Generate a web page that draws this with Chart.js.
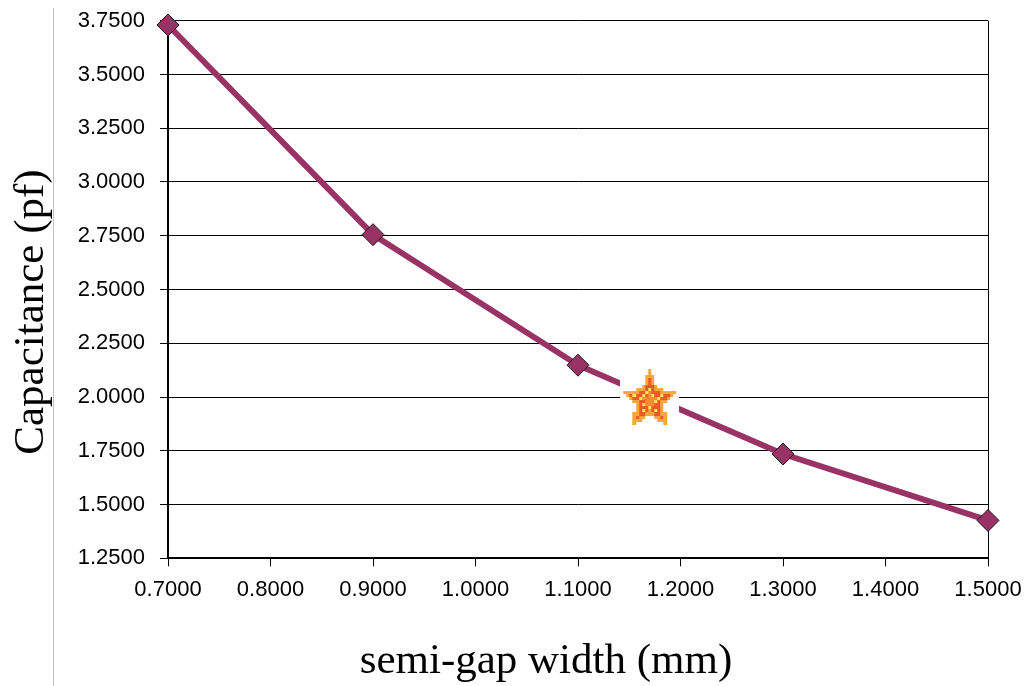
<!DOCTYPE html>
<html>
<head>
<meta charset="utf-8">
<script src="https://cdn.jsdelivr.net/npm/chart.js@4/dist/chart.umd.min.js"></script>
<style>
  html, body { margin: 0; padding: 0; background: #ffffff; }
  #wrap { width: 1025px; height: 686px; position: relative; }
</style>
</head>
<body>
<div id="wrap"><canvas id="chart" width="1025" height="686"></canvas></div>
<script>
// Semi-gap width (mm) and measured capacitance (pF)
const gapWidths = [0.7, 0.9, 1.1, 1.3, 1.5];
const capacitance = [3.73, 2.755, 2.148, 1.735, 1.426];

// Highlighted operating point
const markedGap = [1.17];
const markedCap = [2.0];

// Axis ranges and tick steps
const xRange = [0.7, 1.5];
const yRange = [1.25, 3.75];
const xStep = 0.1;
const yStep = 0.25;

const xTitle = 'semi-gap width (mm)';
const yTitle = 'Capacitance (pf)';

// Pixelated orange star: each pixel of a small grid is tested against
// the star outline, then the grid is scaled up as solid blocks.
function makeStar() {
  const gw = 19, gh = 18, cell = 3.1;
  const cx = 9.5, cy = 10.1, R = 10, r = 4.7;
  const pts = [];
  for (let i = 0; i < 10; i++) {
    const a = -Math.PI / 2 + i * Math.PI / 5;
    const rad = i % 2 === 0 ? R : r;
    pts.push([cx + Math.cos(a) * rad, cy + Math.sin(a) * rad]);
  }
  function inside(x, y, shrink) {
    let c = false;
    for (let i = 0, j = pts.length - 1; i < pts.length; j = i++) {
      const xi = cx + (pts[i][0] - cx) * shrink, yi = cy + (pts[i][1] - cy) * shrink;
      const xj = cx + (pts[j][0] - cx) * shrink, yj = cy + (pts[j][1] - cy) * shrink;
      if (((yi > y) !== (yj > y)) && (x < (xj - xi) * (y - yi) / (yj - yi) + xi)) c = !c;
    }
    return c;
  }
  const big = document.createElement('canvas');
  big.width = Math.round(gw * cell); big.height = Math.round(gh * cell);
  const b = big.getContext('2d');
  b.fillStyle = '#ffffff';
  b.fillRect(0, 0, big.width, big.height);
  for (let gy = 0; gy < gh; gy++) {
    for (let gx = 0; gx < gw; gx++) {
      const px = gx + 0.5, py = gy + 0.5;
      if (!inside(px, py, 1)) continue;
      let col = '#f9a63e';
      if (inside(px, py, 0.72)) {
        col = '#e65c26';
        if (inside(px, py, 0.52) && !inside(px + 0.9, py + 0.9, 0.72)) col = '#fde45c';
        if (inside(px, py, 0.3)) col = '#f28c32';
        if ((gx + gy) % 3 === 0 && inside(px, py, 0.58) && !inside(px, py, 0.3)) col = '#fde45c';
      }
      b.fillStyle = col;
      b.fillRect(Math.round(gx * cell), Math.round(gy * cell),
                 Math.round((gx + 1) * cell) - Math.round(gx * cell),
                 Math.round((gy + 1) * cell) - Math.round(gy * cell));
    }
  }
  return big;
}

// Background, left separator, right frame edge and axis titles
const framePlugin = {
  id: 'frame',
  beforeDraw(chart) {
    const ctx = chart.ctx;
    ctx.save();
    ctx.fillStyle = '#ffffff';
    ctx.fillRect(0, 0, chart.width, chart.height);
    ctx.strokeStyle = '#c4c4c4';
    ctx.lineWidth = 1;
    ctx.beginPath();
    ctx.moveTo(53.5, 8);
    ctx.lineTo(53.5, chart.height);
    ctx.stroke();
    ctx.restore();
  },
  beforeDatasetsDraw(chart) {
    const { ctx, chartArea: a } = chart;
    ctx.save();
    ctx.strokeStyle = '#000000';
    ctx.lineWidth = 1;
    ctx.beginPath();
    ctx.moveTo(Math.round(a.right) + 0.5, a.top);
    ctx.lineTo(Math.round(a.right) + 0.5, a.bottom);
    ctx.stroke();
    ctx.restore();
  },
  afterDraw(chart) {
    const ctx = chart.ctx;
    ctx.save();
    ctx.fillStyle = '#000000';
    ctx.font = '43px "Liberation Serif", "Times New Roman", serif';
    ctx.textAlign = 'center';
    ctx.textBaseline = 'alphabetic';
    ctx.fillText(xTitle, 546, 673);
    ctx.translate(43, 312);
    ctx.rotate(-Math.PI / 2);
    ctx.fillText(yTitle, 0, 0);
    ctx.restore();
  }
};

const fmt4 = v => Number(v).toFixed(4);

function stepTicks(range, step) {
  const t = [];
  const n = Math.round((range[1] - range[0]) / step);
  for (let i = 0; i <= n; i++) t.push({ value: +(range[0] + i * step).toFixed(4) });
  return t;
}

// Fixed scale box sizes; label overhang is not reserved so the plot area
// is governed by the layout padding alone.
function fixBox(scale, prop, size) {
  scale[prop] = size;
  scale.paddingTop = scale.paddingBottom = scale.paddingLeft = scale.paddingRight = 0;
}

new Chart(document.getElementById('chart'), {
  type: 'line',
  data: {
    datasets: [
      {
        label: 'star',
        data: markedGap.map((x, i) => ({ x, y: markedCap[i] })),
        showLine: false,
        pointStyle: makeStar(),
        clip: false,
        order: 0
      },
      {
        label: 'capacitance',
        data: gapWidths.map((x, i) => ({ x, y: capacitance[i] })),
        borderColor: '#993366',
        borderWidth: 6,
        pointStyle: 'rectRot',
        pointRadius: 11,
        pointHoverRadius: 11,
        pointBackgroundColor: '#993366',
        pointBorderColor: '#1a1a1a',
        pointBorderWidth: 1,
        tension: 0,
        clip: false,
        order: 1
      }
    ]
  },
  plugins: [framePlugin],
  options: {
    responsive: false,
    animation: false,
    events: [],
    layout: { autoPadding: false, padding: { top: 20.7, right: 37, left: 0, bottom: 0 } },
    plugins: { legend: { display: false }, tooltip: { enabled: false } },
    scales: {
      x: {
        type: 'linear',
        min: xRange[0],
        max: xRange[1],
        afterFit(scale) { fixBox(scale, 'height', 127.7); },
        afterBuildTicks(scale) { scale.ticks = stepTicks(xRange, xStep); },
        ticks: {
          callback: fmt4,
          color: '#000000',
          font: { family: 'Liberation Sans, Arial, sans-serif', size: 22 },
          padding: 10,
          maxRotation: 0,
          autoSkip: false
        },
        grid: {
          drawOnChartArea: false,
          drawTicks: true,
          tickLength: 8,
          color: '#000000',
          lineWidth: 1
        },
        border: { display: true, color: '#000000', width: 2 },
        title: { display: false }
      },
      y: {
        type: 'linear',
        min: yRange[0],
        max: yRange[1],
        afterFit(scale) { fixBox(scale, 'width', 168); },
        afterBuildTicks(scale) { scale.ticks = stepTicks(yRange, yStep); },
        ticks: {
          callback: fmt4,
          color: '#000000',
          font: { family: 'Liberation Sans, Arial, sans-serif', size: 22 },
          padding: 15
        },
        grid: {
          drawOnChartArea: true,
          drawTicks: true,
          tickLength: 8,
          color: '#000000',
          lineWidth: 1
        },
        border: { display: true, color: '#000000', width: 2 },
        title: { display: false }
      }
    }
  }
});
</script>
</body>
</html>
